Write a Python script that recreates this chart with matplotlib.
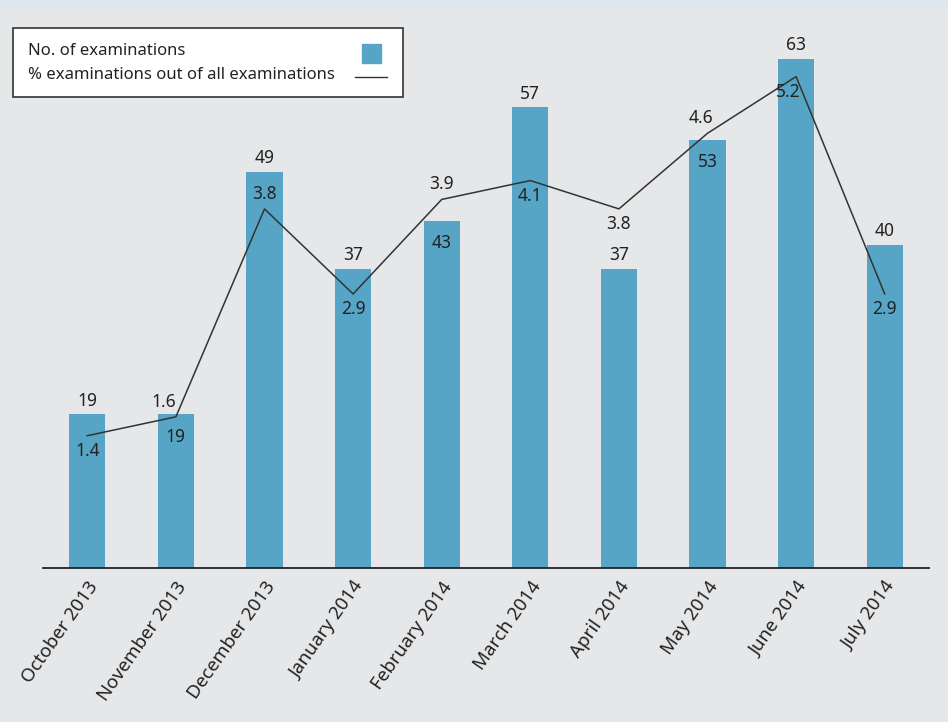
import matplotlib.pyplot as plt
import matplotlib.patches as mpatches
import matplotlib.transforms as mtrans
from matplotlib.lines import Line2D
import numpy as np

plt.rcParams['font.family'] = ['Noto Sans', 'DejaVu Sans']

months = ['October 2013', 'November 2013', 'December 2013', 'January 2014',
          'February 2014', 'March 2014', 'April 2014', 'May 2014',
          'June 2014', 'July 2014']
exams = [19, 19, 49, 37, 43, 57, 37, 53, 63, 40]
pct = [1.4, 1.6, 3.8, 2.9, 3.9, 4.1, 3.8, 4.6, 5.2, 2.9]

# where the value labels go
bar_lab = ['above', 'inside', 'above', 'above', 'inside', 'above', 'above', 'inside', 'above', 'above']
pct_lab = ['below', 'above', 'above', 'below', 'above', 'below', 'below', 'above', 'below', 'below']
# small sideways nudges (points) for a few % labels
pct_nudge = {'November 2013': -9, 'May 2014': -5, 'June 2014': -6}

bg = '#e6e7e9'
blue = '#57a5c6'
dark = '#333333'
W, H = 948, 722


def fx(px):
    return px / W


def fy(py):
    return 1 - py / H


fig = plt.figure(figsize=(W / 100, H / 100), dpi=100, facecolor=bg)
ax = fig.add_axes([fx(43), fy(568), fx(929 - 43), 558 / H])
ax.set_facecolor('none')
ax2 = ax.twinx()

# top strip
fig.patches.append(mpatches.Rectangle((0, fy(5)), 1, 5 / H, transform=fig.transFigure,
                                      color='#dbe8ef', zorder=0))

x = np.arange(len(months))
ax.bar(x, exams, width=0.41, color=blue, zorder=2)
ax2.plot(x, pct, color=dark, lw=1.1, zorder=3)

ax.set_xlim(-0.5, 9.5)
ax.set_ylim(0, 558 / 8.08)
ax2.set_ylim(0, 558 / 94.5)

for a in (ax, ax2):
    for s in ['top', 'right', 'left']:
        a.spines[s].set_visible(False)
    a.set_yticks([])
ax2.spines['bottom'].set_visible(False)
ax.spines['bottom'].set_color('#222222')
ax.spines['bottom'].set_linewidth(1.3)

ax.set_xticks(x)
ax.set_xticklabels(months, rotation=55, ha='right', va='center', rotation_mode='anchor',
                   fontsize=13.5, color='#222222')
ax.tick_params(axis='x', length=0, pad=11)
shift = mtrans.ScaledTranslation(5 / 72, 0, fig.dpi_scale_trans)
for lab in ax.get_xticklabels():
    lab.set_transform(lab.get_transform() + shift)

for i in range(len(x)):
    dy = 10 if bar_lab[i] == 'above' else -16
    ax.annotate(str(exams[i]), (x[i], exams[i]), xytext=(0, dy), textcoords='offset points',
                ha='center', va='center', fontsize=12.5, color='#222222', zorder=5)
    dy = 11 if pct_lab[i] == 'above' else -11
    dx = pct_nudge.get(months[i], 0)
    ax2.annotate('%.1f' % pct[i], (x[i], pct[i]), xytext=(dx, dy), textcoords='offset points',
                 ha='center', va='center', fontsize=12.5, color='#222222', zorder=5)

# legend box, drawn by hand so the labels sit left aligned
fig.patches.append(mpatches.Rectangle((fx(13), fy(97)), fx(403 - 13), (97 - 28) / H,
                                      transform=fig.transFigure, facecolor='white',
                                      edgecolor=dark, lw=1.2, zorder=10))
fig.text(fx(28), fy(51), 'No. of examinations', fontsize=12, color='#222222',
         va='center', ha='left', zorder=11)
fig.text(fx(28), fy(75), '% examinations out of all examinations', fontsize=12,
         color='#222222', va='center', ha='left', zorder=11)
fig.patches.append(mpatches.Rectangle((fx(362), fy(63)), fx(19), 19 / H,
                                      transform=fig.transFigure, color=blue, zorder=11))
fig.lines.append(Line2D([fx(355), fx(387)], [fy(77), fy(77)], transform=fig.transFigure,
                        color=dark, lw=1, zorder=11))

fig.savefig('out.png', dpi=100, facecolor=bg)
